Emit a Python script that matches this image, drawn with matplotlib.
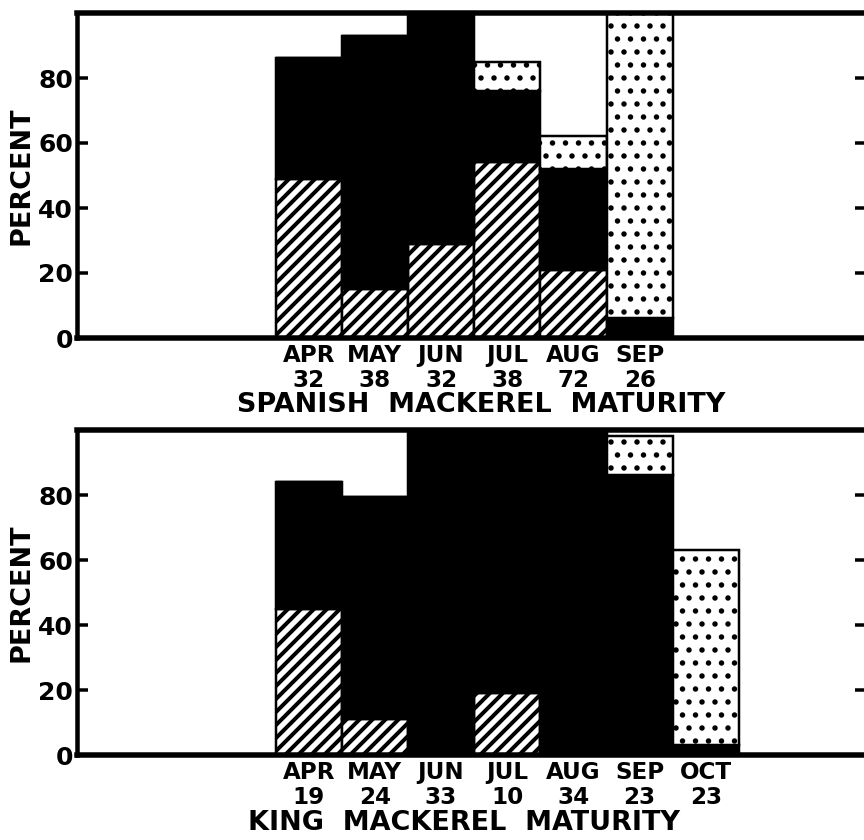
import matplotlib
matplotlib.use('Agg')
import matplotlib.pyplot as plt

DPI = 78
W, H = 864, 840

# ---- Spanish mackerel maturity (percent) ----
sp_months = ['APR', 'MAY', 'JUN', 'JUL', 'AUG', 'SEP']
sp_counts = [32, 38, 32, 38, 72, 26]
sp_pos = [3, 4, 5, 6, 7, 8]
sp_hatched = [49, 15, 29, 54, 21, 0]
sp_black = [37, 78, 71, 22, 31, 6]
sp_dotted = [0, 0, 0, 9, 10, 94]

# ---- King mackerel maturity (percent) ----
kg_months = ['APR', 'MAY', 'JUN', 'JUL', 'AUG', 'SEP', 'OCT']
kg_counts = [19, 24, 33, 10, 34, 23, 23]
kg_pos = [3, 4, 5, 6, 7, 8, 9]
kg_hatched = [45, 11, 0, 19, 0, 0, 0]
kg_black = [39, 68.5, 100, 81, 100, 86, 3]
kg_dotted = [0, 0, 0, 0, 0, 12, 60]

yticks = [0, 20, 40, 60, 80]

plt.rcParams['font.family'] = ['DejaVu Sans']
plt.rcParams['hatch.linewidth'] = 3.2

fig = plt.figure(figsize=(W / DPI, H / DPI), dpi=DPI)


def px(v):
    return v * 72.0 / DPI


def set_hlw(bars, lw):
    for b in bars:
        if hasattr(b, 'set_hatch_linewidth'):
            b.set_hatch_linewidth(lw)


def panel(rect, pos, months, counts, hatched, black, dotted, title, title_xy):
    ax = fig.add_axes(rect)
    bot1 = list(hatched)
    bot2 = [h + b for h, b in zip(hatched, black)]
    hb = ax.bar(pos, hatched, width=1, align='edge', facecolor='white',
                edgecolor='black', hatch='//', linewidth=px(2.5))
    set_hlw(hb, px(4))
    ax.bar(pos, black, bottom=bot1, width=1, align='edge', facecolor='black',
           edgecolor='black', linewidth=px(2.5))
    db = ax.bar(pos, dotted, bottom=bot2, width=1, align='edge', facecolor='white',
                edgecolor='black', hatch='.', linewidth=px(2.5))
    set_hlw(db, px(2.8))
    ax.set_xlim(0, 11.92)
    ax.set_ylim(0, 100)
    ax.set_yticks(yticks)
    ax.set_yticklabels([str(t) for t in yticks], fontsize=px(25), fontweight='bold')
    ax.tick_params(axis='y', direction='in', length=px(11), width=px(3.5),
                   left=True, right=True, pad=px(4))
    ax.set_xticks([p + 0.5 for p in pos])
    ax.set_xticklabels([f'{m}\n{c}' for m, c in zip(months, counts)],
                       fontsize=px(23), fontweight='bold', linespacing=1.12)
    ax.tick_params(axis='x', length=0, pad=px(6))
    for s in ['top', 'bottom']:
        ax.spines[s].set_linewidth(px(5.5))
    ax.spines['left'].set_linewidth(px(4.5))
    ax.spines['right'].set_linewidth(px(4.5))
    fig.text(title_xy[0] / W, 1 - title_xy[1] / H, title, ha='center', va='center',
             fontsize=px(27), fontweight='bold')
    fig.text(22 / W, rect[1] + rect[3] / 2, 'PERCENT', rotation=90, ha='center',
             va='center', fontsize=px(27), fontweight='bold')
    return ax


left = 77 / W
width = (866 - 77) / W
hgt = (338 - 13) / H

panel([left, 1 - 338 / H, width, hgt], sp_pos, sp_months, sp_counts,
      sp_hatched, sp_black, sp_dotted, 'SPANISH  MACKEREL  MATURITY', (481, 405))
panel([left, 1 - 755 / H, width, hgt], kg_pos, kg_months, kg_counts,
      kg_hatched, kg_black, kg_dotted, 'KING  MACKEREL  MATURITY', (464, 823))

fig.savefig('out.png', dpi=DPI)
